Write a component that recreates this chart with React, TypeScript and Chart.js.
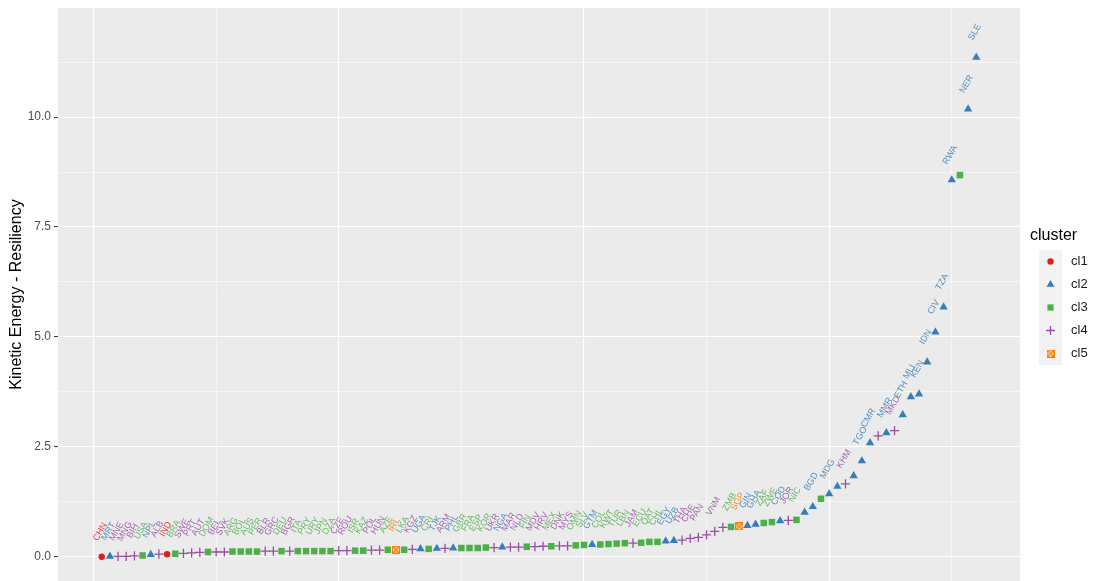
import React, { useEffect, useRef } from 'react';
import { Chart, registerables } from 'chart.js';

Chart.register(...registerables);

// ---- data ("" = label not shown / unreadable) ----
const countries: string[] = [
  'CHN', 'MRT', 'MNE', 'MNG', 'BIH', 'USA', 'NPL', 'ALB', 'IND', 'BRA',
  'SWE', 'PRT', 'AUT', 'DOM', 'BEL', 'SVK', 'ARG', 'BOL', 'AUS', 'PER',
  'BLR', 'GRC', 'DEU', 'BGR', 'ITA', 'PRY', 'URY', 'JPN', 'DZA', 'CZE',
  'ROU', 'ISR', 'KAZ', 'POL', 'HUN', 'AZE', 'IRL', 'LKA', 'KGZ', 'UGA',
  'CRI', 'TJK', 'ARM', 'PHL', 'GBR', 'FRA', 'ESP', 'KOR', 'UKR', 'NGA',
  'MAR', 'NLD', 'FIN', 'MDV', 'HRV', 'MEX', 'DNK', 'MYS', 'OMN', 'SLV',
  'GTM', 'COL', 'KWT', 'TUR', 'LBN', 'JAM', 'ECU', 'QAT', 'CHL', 'EGY',
  'UZB', 'THA', 'CHE', 'PAN', '', 'VNM', '', 'ZMB', 'SGP', 'GIN',
  'GHA', 'ZAF', 'ZWE', 'COD', 'JOR', 'NIC', '', 'BGD', '', 'MDG',
  '', 'KHM', '', 'TGO', 'CMR', '', 'MMR', 'MKD', 'ETH', 'MLI',
  'KEN', 'IDN', 'CIV', 'TZA', 'RWA', '', 'NER', 'SLE',
];

const resiliency: number[] = [
  0.00, 0.01, 0.01, 0.01, 0.02, 0.03, 0.05, 0.06, 0.06, 0.07,
  0.08, 0.09, 0.10, 0.11, 0.11, 0.11, 0.12, 0.12, 0.12, 0.12,
  0.13, 0.13, 0.13, 0.13, 0.13, 0.13, 0.13, 0.13, 0.13, 0.14,
  0.14, 0.14, 0.14, 0.15, 0.15, 0.16, 0.16, 0.16, 0.17, 0.18,
  0.18, 0.19, 0.19, 0.20, 0.20, 0.20, 0.20, 0.21, 0.21, 0.22,
  0.22, 0.22, 0.23, 0.23, 0.24, 0.24, 0.25, 0.25, 0.26, 0.27,
  0.28, 0.28, 0.29, 0.30, 0.31, 0.31, 0.32, 0.34, 0.34, 0.36,
  0.37, 0.38, 0.42, 0.44, 0.50, 0.58, 0.67, 0.68, 0.69, 0.71,
  0.74, 0.77, 0.79, 0.82, 0.83, 0.84, 1.01, 1.14, 1.32, 1.43,
  1.60, 1.66, 1.84, 2.18, 2.59, 2.75, 2.82, 2.87, 3.23, 3.64,
  3.70, 4.43, 5.11, 5.68, 8.57, 8.68, 10.18, 11.36,
];

const clusters: number[] = [
  1, 2, 4, 4, 4, 3, 2, 4, 1, 3,
  4, 4, 4, 3, 4, 4, 3, 3, 3, 3,
  4, 4, 3, 4, 3, 3, 3, 3, 3, 4,
  4, 3, 3, 4, 4, 3, 5, 3, 4, 2,
  3, 2, 4, 2, 3, 3, 3, 3, 4, 2,
  4, 4, 3, 4, 4, 3, 4, 4, 3, 3,
  2, 3, 3, 3, 3, 4, 3, 3, 3, 2,
  2, 4, 4, 4, 4, 4, 4, 3, 5, 2,
  2, 3, 3, 2, 4, 3, 2, 2, 3, 2,
  2, 4, 2, 2, 2, 4, 2, 4, 2, 2,
  2, 2, 2, 2, 2, 3, 2, 2,
];

const clusterNames: string[] = ['cl1', 'cl2', 'cl3', 'cl4', 'cl5'];
const clusterColors: string[] = ['#E41A1C', '#377EB8', '#4DAF4A', '#984EA3', '#FF7F00'];
const clusterLabelColors: string[] = [
  'rgba(228,26,28,0.85)', 'rgba(55,126,184,0.85)', 'rgba(77,175,74,0.85)',
  'rgba(152,78,163,0.85)', 'rgba(255,127,0,0.85)',
];

const yMajorTicks: number[] = [0, 2.5, 5, 7.5, 10];
const yGridValues: number[] = [0, 1.25, 2.5, 3.75, 5, 6.25, 7.5, 8.75, 10, 11.25];
const xGridValues: number[] = [0, 15, 30, 45, 60, 75, 90, 105];
const xMajorGrid: number[] = [0, 30, 60, 90];

const FONT = '"Liberation Sans", Arial, Helvetica, sans-serif';

function makeCl5Canvas(): HTMLCanvasElement {
  const c = document.createElement('canvas');
  c.width = 8;
  c.height = 8;
  const g = c.getContext('2d')!;
  g.strokeStyle = clusterColors[4];
  g.lineWidth = 1.3;
  g.strokeRect(0.65, 0.65, 6.7, 6.7);
  g.beginPath();
  g.moveTo(0.8, 0.8); g.lineTo(7.2, 7.2);
  g.moveTo(7.2, 0.8); g.lineTo(0.8, 7.2);
  g.stroke();
  return c;
}

function drawSymbol(ctx: CanvasRenderingContext2D, k: number, x: number, y: number, img: HTMLCanvasElement) {
  ctx.save();
  ctx.fillStyle = clusterColors[k];
  ctx.strokeStyle = clusterColors[k];
  if (k === 0) {
    ctx.beginPath(); ctx.arc(x, y, 3.2, 0, Math.PI * 2); ctx.fill();
  } else if (k === 1) {
    const r = 4.6;
    ctx.beginPath();
    for (let i = 0; i < 3; i++) {
      const a = (i * 2 * Math.PI) / 3;
      const px = x + Math.sin(a) * r, py = y - Math.cos(a) * r;
      if (i === 0) ctx.moveTo(px, py); else ctx.lineTo(px, py);
    }
    ctx.closePath(); ctx.fill();
  } else if (k === 2) {
    const s = 4.4 * Math.SQRT1_2;
    ctx.fillRect(x - s, y - s, 2 * s, 2 * s);
  } else if (k === 3) {
    ctx.lineWidth = 1.3;
    ctx.beginPath();
    ctx.moveTo(x - 4.5, y); ctx.lineTo(x + 4.5, y);
    ctx.moveTo(x, y - 4.5); ctx.lineTo(x, y + 4.5);
    ctx.stroke();
  } else {
    ctx.drawImage(img, x - img.width / 2, y - img.height / 2);
  }
  ctx.restore();
}

export default function App() {
  const canvasRef = useRef<HTMLCanvasElement | null>(null);

  useEffect(() => {
    if (!canvasRef.current) return;
    const cl5 = makeCl5Canvas();
    const styles: any[] = ['circle', 'triangle', 'rect', 'cross', cl5];
    const radii = [3.2, 4.8, 4.6, 4.6, 4];

    const datasets = clusterNames.map((name, k) => {
      const pts: any[] = [];
      countries.forEach((c, i) => {
        if (clusters[i] === k + 1) pts.push({ x: i + 1, y: resiliency[i], label: c });
      });
      return {
        label: name,
        data: pts,
        pointStyle: styles[k],
        pointRadius: radii[k],
        pointHoverRadius: radii[k],
        backgroundColor: clusterColors[k],
        borderColor: clusterColors[k],
        pointBorderWidth: k === 3 ? 1.3 : 0,
        showLine: false,
      };
    });

    const panelPlugin = {
      id: 'panelBg',
      beforeDraw(chart: any) {
        const { ctx, chartArea } = chart;
        ctx.save();
        ctx.fillStyle = '#EBEBEB';
        ctx.fillRect(chartArea.left, chartArea.top, chartArea.right - chartArea.left, chartArea.bottom - chartArea.top);
        ctx.restore();
      },
    };

    const labelPlugin = {
      id: 'pointLabels',
      afterDatasetsDraw(chart: any) {
        const { ctx } = chart;
        ctx.save();
        ctx.font = `9px ${FONT}`;
        ctx.textAlign = 'center';
        ctx.textBaseline = 'middle';
        chart.data.datasets.forEach((ds: any, k: number) => {
          const meta = chart.getDatasetMeta(k);
          meta.data.forEach((el: any, j: number) => {
            const lab = ds.data[j].label;
            if (!lab) return;
            ctx.save();
            ctx.translate(el.x - 1.5, el.y - 25);
            ctx.rotate(-Math.PI / 3);
            ctx.fillStyle = clusterLabelColors[k];
            ctx.fillText(lab, 0, 0);
            ctx.restore();
          });
        });
        ctx.restore();
      },
    };

    const legendPlugin = {
      id: 'ggLegend',
      afterDraw(chart: any) {
        const { ctx } = chart;
        ctx.save();
        ctx.fillStyle = '#000000';
        ctx.font = `16px ${FONT}`;
        ctx.textAlign = 'left';
        ctx.textBaseline = 'middle';
        ctx.fillText('cluster', 1030, 236);
        const top = 250, h = 23, kx = 1039, kw = 23;
        ctx.fillStyle = '#F2F2F2';
        ctx.fillRect(kx, top, kw, h * clusterNames.length);
        clusterNames.forEach((n, k) => {
          const cy = top + h / 2 + k * h;
          drawSymbol(ctx, k, kx + kw / 2, cy, cl5);
          ctx.fillStyle = '#1A1A1A';
          ctx.font = `13px ${FONT}`;
          ctx.textAlign = 'left';
          ctx.textBaseline = 'middle';
          ctx.fillText(n, 1071, cy);
        });
        ctx.restore();
      },
    };

    const chart = new Chart(canvasRef.current, {
      type: 'scatter',
      data: { datasets },
      options: {
        animation: false,
        responsive: false,
        maintainAspectRatio: false,
        layout: { autoPadding: false, padding: { top: 8, right: 74, bottom: 0, left: 0 } },
        plugins: { legend: { display: false }, tooltip: { enabled: false } },
        scales: {
          x: {
            type: 'linear',
            min: -4.35,
            max: 113.35,
            afterBuildTicks: (scale: any) => {
              scale.ticks = xGridValues.map((v) => ({ value: v }));
            },
            afterFit: (scale: any) => {
              scale.height = 0;
              scale.paddingLeft = 0;
              scale.paddingRight = 0;
            },
            ticks: { display: false },
            border: { display: false },
            grid: {
              color: '#FFFFFF',
              drawTicks: false,
              lineWidth: (c: any) => (xMajorGrid.includes(c.tick?.value) ? 1.1 : 0.55),
            },
          },
          y: {
            type: 'linear',
            min: -0.55,
            max: 12.48,
            afterBuildTicks: (scale: any) => {
              scale.ticks = yGridValues.map((v) => ({ value: v }));
            },
            afterFit: (scale: any) => {
              scale.width = 58;
              scale.paddingTop = 0;
              scale.paddingBottom = 0;
            },
            border: { display: false },
            title: {
              display: true,
              text: 'Kinetic Energy - Resiliency',
              color: '#000000',
              font: { family: FONT, size: 16 },
              padding: { top: 7, bottom: 0 },
            },
            ticks: {
              color: '#4D4D4D',
              font: { family: FONT, size: 12 },
              padding: 3,
              autoSkip: false,
              callback: (v: any) => (yMajorTicks.includes(Number(v)) ? Number(v).toFixed(1) : ''),
            },
            grid: {
              color: '#FFFFFF',
              lineWidth: (c: any) => (yMajorTicks.includes(c.tick?.value) ? 1.1 : 0.55),
              drawTicks: true,
              tickLength: 4,
              tickWidth: 1,
              tickColor: (c: any) => (yMajorTicks.includes(c.tick?.value) ? '#333333' : 'rgba(0,0,0,0)'),
            },
          },
        },
      },
      plugins: [panelPlugin, labelPlugin, legendPlugin],
    } as any);

    return () => chart.destroy();
  }, []);

  return (
    <div style={{ position: 'absolute', left: 0, top: 0, width: 1094, height: 581 }}>
      <canvas ref={canvasRef} width={1094} height={581} />
    </div>
  );
}
